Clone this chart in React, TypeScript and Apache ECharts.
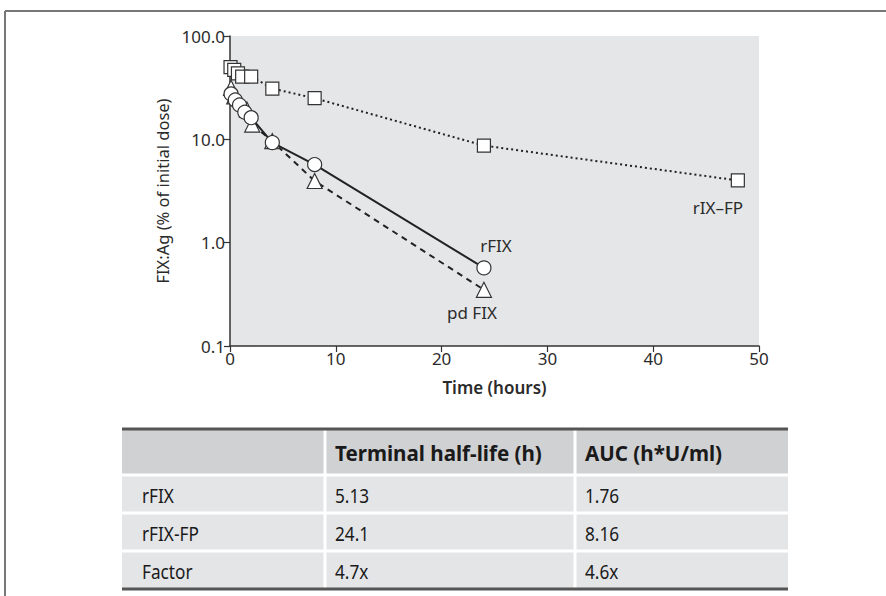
import React, { useEffect, useRef } from "react";
import * as echarts from "echarts";

// ---- data ----
const timeFP = [0.05, 0.4, 0.75, 1.15, 2, 4, 8, 24, 48];
const valueFP = [50, 47, 43.5, 40.5, 40.5, 31, 25, 8.7, 4.0];
const timeRFIX = [0.1, 0.5, 0.9, 1.4, 2, 4, 8, 24];
const valueRFIX = [27.5, 24, 21.5, 18.3, 16.2, 9.3, 5.7, 0.57];
const timePD = [0.1, 0.4, 1.6, 2.1, 4, 8, 24];
const valuePD = [31.5, 26, 19.4, 13.9, 9.6, 3.95, 0.35];
const seriesNames = ["rIX–FP", "rFIX", "pd FIX"];
const xTicks = [0, 10, 20, 30, 40, 50];
const yTicks = [0.1, 1, 10, 100];

const tableHeader = ["", "Terminal half-life (h)", "AUC (h*U/ml)"];
const tableRows = [
  ["rFIX", "5.13", "1.76"],
  ["rFIX-FP", "24.1", "8.16"],
  ["Factor", "4.7x", "4.6x"],
];

const FONT = "'Noto Sans', 'Open Sans', sans-serif";
const TFONT = "'Noto Sans', sans-serif";
const INK = "#2b2b2b";

function pts(t: number[], v: number[]) {
  return t.map((x, i) => [x, v[i]]);
}

function lastLabel(data: number[][], text: string, offset: number[]) {
  return data.map((d, i) =>
    i === data.length - 1
      ? {
          value: d,
          label: {
            show: true,
            formatter: text,
            position: "inside",
            offset,
            color: INK,
            fontSize: 17,
            fontFamily: FONT,
            align: "center",
            verticalAlign: "middle",
          },
        }
      : { value: d }
  );
}

function buildTable() {
  const els: any[] = [];
  const colX = [122, 325, 575, 788];
  const top = 429;
  const headH = 46;
  const rowH = 38;
  const width = colX[3] - colX[0];
  els.push({
    type: "rect",
    shape: { x: colX[0], y: top, width, height: headH },
    style: { fill: "#d0d1d3" },
  });
  tableRows.forEach((_, i) => {
    els.push({
      type: "rect",
      shape: { x: colX[0], y: top + headH + i * rowH, width, height: rowH },
      style: { fill: "#e4e5e7" },
    });
  });
  for (let i = 0; i < tableRows.length; i++) {
    const y = top + headH + i * rowH;
    els.push({
      type: "line",
      shape: { x1: colX[0], y1: y, x2: colX[3], y2: y },
      style: { stroke: "#ffffff", lineWidth: 3 },
    });
  }
  [colX[1], colX[2]].forEach((x) => {
    els.push({
      type: "line",
      shape: { x1: x, y1: top, x2: x, y2: top + headH + tableRows.length * rowH },
      style: { stroke: "#ffffff", lineWidth: 3 },
    });
  });
  const bottom = top + headH + tableRows.length * rowH;
  els.push({
    type: "line",
    shape: { x1: colX[0], y1: top, x2: colX[3], y2: top },
    style: { stroke: "#555", lineWidth: 3 },
  });
  els.push({
    type: "line",
    shape: { x1: colX[0], y1: bottom, x2: colX[3], y2: bottom },
    style: { stroke: "#555", lineWidth: 3 },
  });
  tableHeader.forEach((h, c) => {
    if (!h) return;
    els.push({
      type: "text",
      x: colX[c] + 10,
      y: top + headH / 2 + 1,
      scaleX: 0.98,
      style: {
        text: h,
        fill: "#1a1a1a",
        fontSize: 21,
        fontWeight: "bold",
        fontFamily: TFONT,
        verticalAlign: "middle",
        align: "left",
      },
    });
  });
  tableRows.forEach((r, i) => {
    r.forEach((cell, c) => {
      els.push({
        type: "text",
        x: colX[c] + (c === 0 ? 20 : 10),
        y: top + headH + i * rowH + rowH / 2 + 1,
        scaleX: 0.86,
        style: {
          text: cell,
          fill: "#1a1a1a",
          fontSize: 20,
          fontFamily: TFONT,
          verticalAlign: "middle",
          align: "left",
        },
      });
    });
  });
  return els;
}

export default function App() {
  const ref = useRef<HTMLDivElement>(null);
  useEffect(() => {
    document.body.style.margin = "0";
    const chart = echarts.init(ref.current!, null, { renderer: "svg" });
    const dFP = pts(timeFP, valueFP);
    const dR = pts(timeRFIX, valueRFIX);
    const dP = pts(timePD, valuePD);
    const markerStyle = { color: "#ffffff", borderColor: "#333", borderWidth: 1.2 };
    chart.setOption({
      animation: false,
      textStyle: { fontFamily: FONT },
      grid: {
        left: 230,
        right: 127,
        top: 36,
        bottom: 250,
        show: true,
        backgroundColor: "#e5e6e8",
        borderWidth: 0,
      },
      xAxis: {
        type: "value",
        min: xTicks[0],
        max: xTicks[xTicks.length - 1],
        interval: 10,
        name: "Time (hours)",
        nameLocation: "middle",
        nameGap: 33,
        nameTextStyle: { fontSize: 17, fontWeight: 600, color: INK, fontFamily: FONT },
        axisLine: { show: true, lineStyle: { color: "#333", width: 1.5 } },
        axisTick: { show: true, length: 6, lineStyle: { color: "#333", width: 1.2 } },
        axisLabel: { fontSize: 17, color: INK, margin: 4, fontFamily: FONT },
        splitLine: { show: false },
      },
      yAxis: {
        type: "log",
        logBase: 10,
        min: yTicks[0],
        max: yTicks[yTicks.length - 1],
        name: "FIX:Ag (% of initial dose)",
        nameLocation: "middle",
        nameGap: 42,
        nameTextStyle: { fontSize: 16.5, color: INK, fontFamily: FONT },
        axisLine: { show: true, lineStyle: { color: "#333", width: 1.5 } },
        axisTick: { show: true, length: 6, lineStyle: { color: "#333", width: 1.2 } },
        axisLabel: {
          fontSize: 17,
          color: INK,
          margin: 5,
          fontFamily: FONT,
          formatter: (v: number) => v.toFixed(1),
        },
        minorTick: { show: false },
        splitLine: { show: false },
      },
      series: [
        {
          type: "line",
          name: seriesNames[0],
          data: lastLabel(dFP, seriesNames[0], [-20, 27]),
          symbol: "rect",
          symbolSize: 13,
          itemStyle: markerStyle,
          lineStyle: { color: "#222", width: 2, type: [2, 3] },
          z: 2,
        },
        {
          type: "line",
          name: seriesNames[2],
          data: lastLabel(dP, seriesNames[2], [-12, 23]),
          symbol: "triangle",
          symbolSize: 15,
          itemStyle: markerStyle,
          lineStyle: { color: "#222", width: 2, type: [6, 5] },
          z: 3,
        },
        {
          type: "line",
          name: seriesNames[1],
          data: lastLabel(dR, seriesNames[1], [12, -22]),
          symbol: "circle",
          symbolSize: 14,
          itemStyle: markerStyle,
          lineStyle: { color: "#222", width: 2, type: "solid" },
          z: 4,
        },
      ],
      graphic: [
        {
          type: "line",
          shape: { x1: 5, y1: 11, x2: 886, y2: 11 },
          style: { stroke: "#777", lineWidth: 2 },
        },
        {
          type: "line",
          shape: { x1: 5, y1: 11, x2: 5, y2: 596 },
          style: { stroke: "#777", lineWidth: 2 },
        },
        ...buildTable(),
      ],
    });
    return () => chart.dispose();
  }, []);
  return <div ref={ref} style={{ width: 886, height: 596 }} />;
}
